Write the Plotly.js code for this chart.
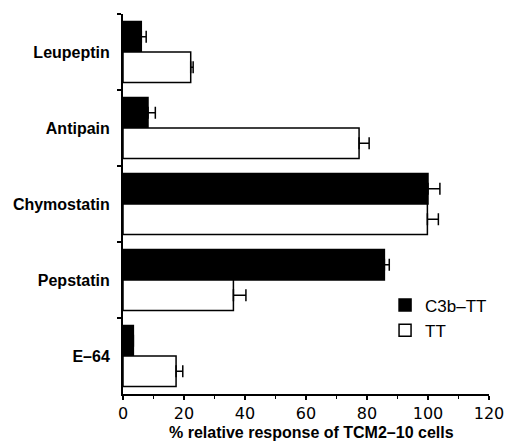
<!DOCTYPE html>
<html>
<head>
<meta charset="utf-8">
<script src="https://cdn.plot.ly/plotly-3.0.1.min.js"></script>
<style>html,body{margin:0;padding:0;background:#fff;}#chart{width:511px;height:442px;}</style>
</head>
<body>
<div id="chart"></div>
<script>
const categories = ["Leupeptin", "Antipain", "Chymostatin", "Pepstatin", "E–64"];
const c3bValues = [6, 8.2, 100, 85.7, 3.4];
const c3bErrors = [1.6, 2.4, 3.9, 1.6, 0];
const ttValues = [22.2, 77.4, 99.8, 36.2, 17.4];
const ttErrors = [0.8, 3.3, 3.6, 4.1, 2.2];
const seriesNames = ["C3b–TT", "TT"];
const xTickValues = [0, 20, 40, 60, 80, 100, 120];
const xTitle = "% relative response of TCM2–10 cells";

const zeros = categories.map(() => 0);
const font = "Liberation Sans, Arial, sans-serif";

const traces = [
  {
    type: "bar", orientation: "h", name: seriesNames[0], legendgroup: "a",
    y: categories, x: c3bValues,
    marker: {color: "#000", line: {color: "#000", width: 1.5}},
    error_x: {type: "data", symmetric: false, array: c3bErrors, arrayminus: zeros, color: "#000", thickness: 1.5, width: 6}
  },
  {
    type: "bar", orientation: "h", name: seriesNames[1], legendgroup: "b",
    y: categories, x: ttValues,
    marker: {color: "#fff", line: {color: "#000", width: 1.5}},
    error_x: {type: "data", symmetric: false, array: ttErrors, arrayminus: zeros, color: "#000", thickness: 1.5, width: 6}
  }
];

const layout = {
  width: 511, height: 442,
  margin: {l: 123, r: 22, t: 14, b: 48},
  paper_bgcolor: "#fff", plot_bgcolor: "#fff",
  barmode: "group", bargap: 0.2, bargroupgap: 0,
  font: {family: font, color: "#000"},
  showlegend: true,
  legend: {x: 0.716, y: 0.2, xanchor: "left", yanchor: "middle", traceorder: "normal",
           tracegroupgap: 12, bgcolor: "rgba(0,0,0,0)", font: {size: 17, family: font}},
  xaxis: {
    range: [0, 120], tickvals: xTickValues, ticktext: xTickValues.map(String),
    showline: true, linecolor: "#000", linewidth: 2, zeroline: false, showgrid: false,
    ticks: "outside", ticklen: 4, tickwidth: 2, tickcolor: "#000",
    minor: {dtick: 10, tick0: 0, ticks: "outside", ticklen: 3, tickwidth: 1.5, tickcolor: "#000"},
    tickfont: {size: 16, family: "DejaVu Sans, sans-serif"}, ticklabelstandoff: 0
  },
  yaxis: {
    type: "category", categoryorder: "array", categoryarray: categories,
    autorange: "reversed",
    showline: true, linecolor: "#000", linewidth: 2, zeroline: false, showgrid: false,
    ticks: "outside", tickson: "boundaries", ticklen: 4, tickwidth: 2, tickcolor: "#000",
    tickfont: {size: 16, family: font, weight: "bold"}, ticklabelstandoff: 8
  },
  annotations: [{
    text: "<b>" + xTitle + "</b>", xref: "paper", yref: "paper",
    x: 0.516, y: -0.1, xanchor: "center", yanchor: "middle", showarrow: false,
    borderpad: 0, font: {size: 16, family: font}
  }]
};

Plotly.newPlot("chart", traces, layout, {displayModeBar: false, staticPlot: true});
</script>
</body>
</html>
